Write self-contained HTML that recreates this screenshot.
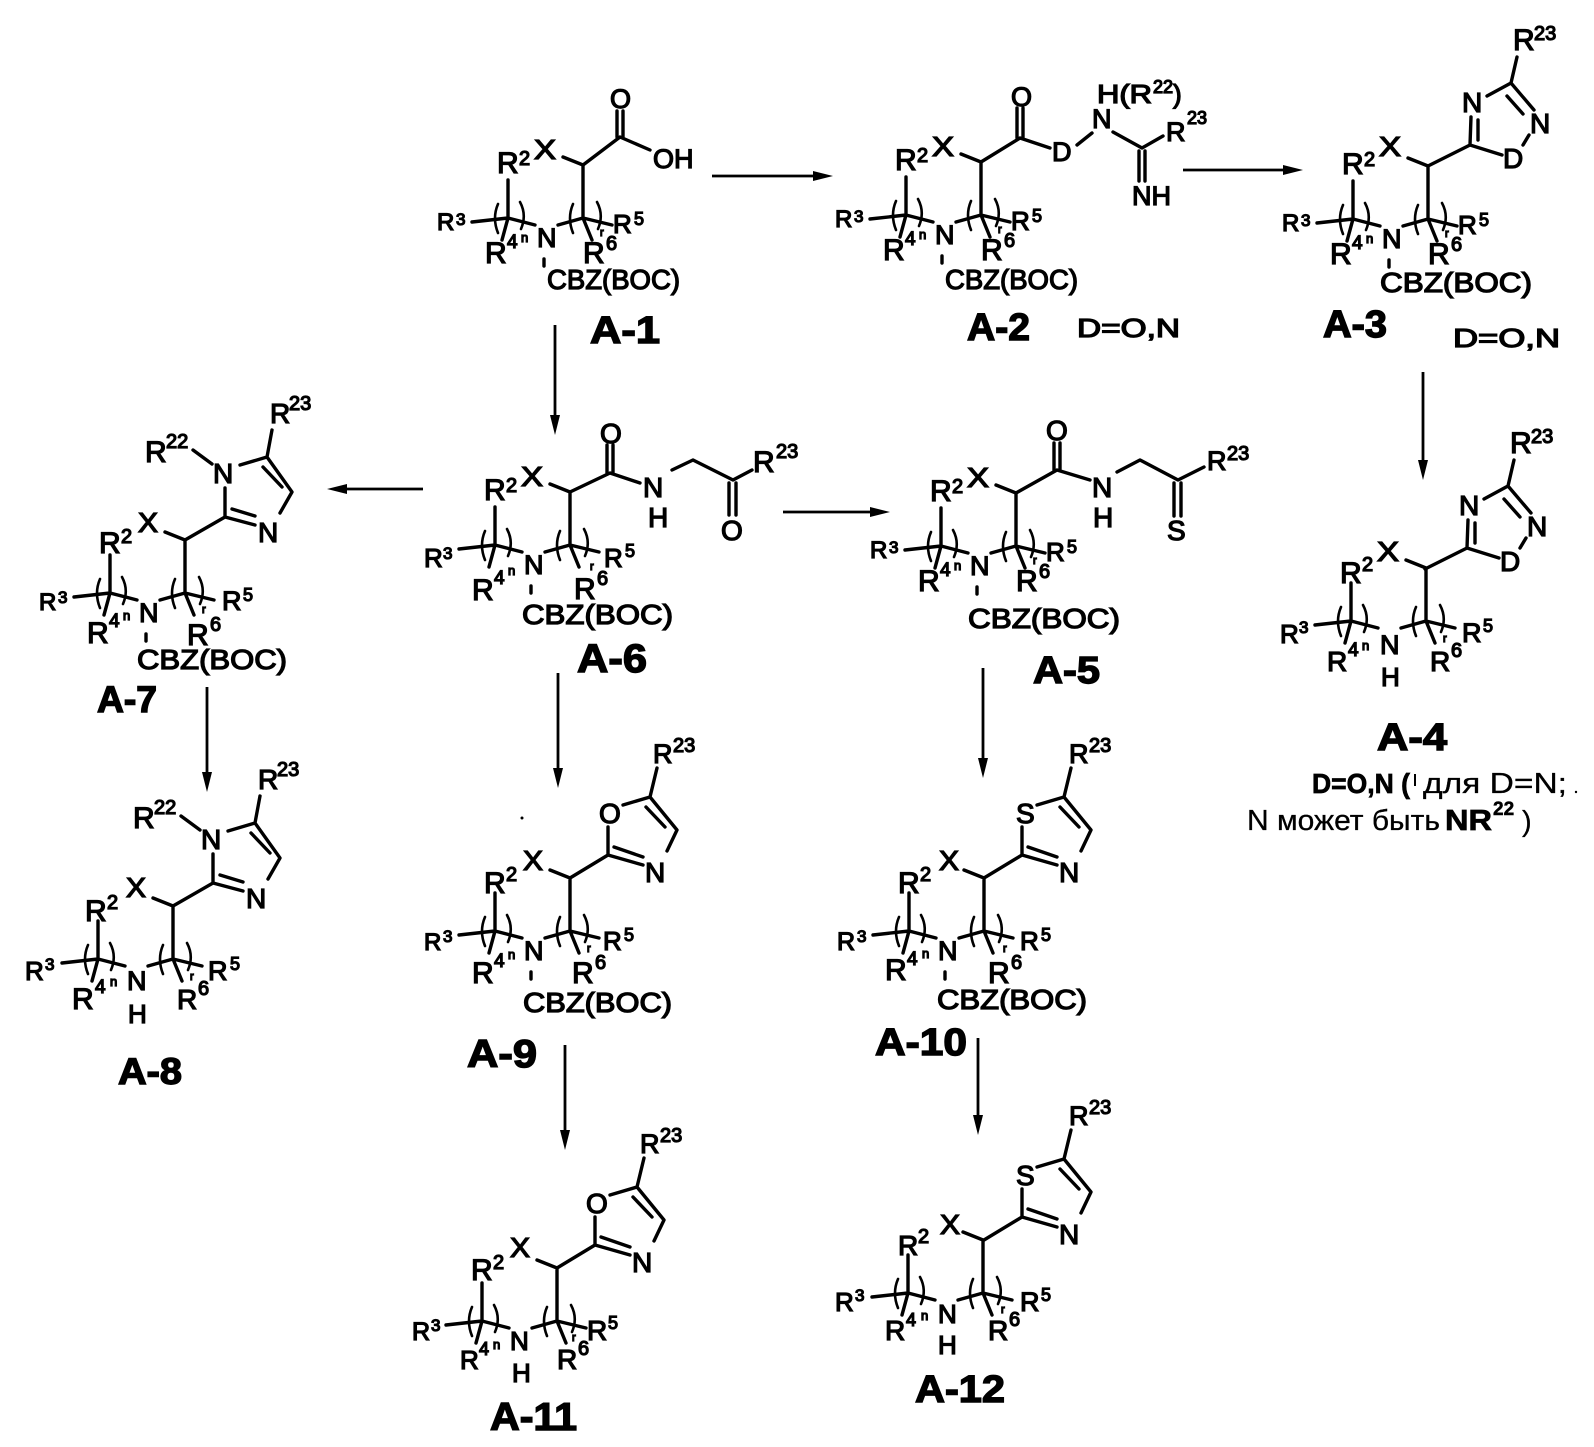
<!DOCTYPE html>
<html><head><meta charset="utf-8"><style>
html,body{margin:0;padding:0;background:#fff;}
svg{display:block;}
.t{font-family:"Liberation Sans",Arial,sans-serif;fill:#000;stroke:#000;stroke-width:1.3;}
.b{font-family:"Liberation Sans",Arial,sans-serif;font-weight:bold;fill:#000;stroke:#000;stroke-width:1.4;}
.r{font-family:"Liberation Sans",Arial,sans-serif;fill:#000;stroke:#000;stroke-width:0.3;}
.ln{stroke:#000;stroke-width:3.4;fill:none;stroke-linecap:round;stroke-linejoin:round;}
.ln2{stroke:#000;stroke-width:2.6;fill:none;stroke-linecap:round;}
.ar line{stroke:#000;stroke-width:2.8;}
.ar polygon{fill:#000;}
</style></head><body>
<svg width="1594" height="1447" viewBox="0 0 1594 1447" xmlns="http://www.w3.org/2000/svg">
<rect width="1594" height="1447" fill="#fff"/>

<!-- ARROWS -->
<g class="ar">
<line x1="712" y1="176" x2="815" y2="176"/><polygon points="833,176 813,171 813,181"/>
<line x1="1183" y1="170" x2="1285" y2="170"/><polygon points="1303,170 1283,165 1283,175"/>
<line x1="1423" y1="372" x2="1423" y2="462"/><polygon points="1423,480 1418,460 1428,460"/>
<line x1="555" y1="325" x2="555" y2="417"/><polygon points="555,435 550,415 560,415"/>
<line x1="423" y1="489" x2="345" y2="489"/><polygon points="327,489 347,484 347,494"/>
<line x1="783" y1="512" x2="872" y2="512"/><polygon points="890,512 870,507 870,517"/>
<line x1="983" y1="668" x2="983" y2="760"/><polygon points="983,778 978,758 988,758"/>
<line x1="558" y1="673" x2="558" y2="770"/><polygon points="558,788 553,768 563,768"/>
<line x1="207" y1="687" x2="207" y2="774"/><polygon points="207,792 202,772 212,772"/>
<line x1="565" y1="1045" x2="565" y2="1132"/><polygon points="565,1150 560,1130 570,1130"/>
<line x1="978" y1="1038" x2="978" y2="1117"/><polygon points="978,1135 973,1115 983,1115"/>
</g>

<!-- ===== CORES (CBZ variant) ===== -->
<!-- A-1 -->
<g transform="translate(0,0)">
<path class="ln" d="M563,157 L583,165 L583,218 M508,180 L508,218 M472,222 L508,218 L535,225 M508,218 L502,240 M558,225 L583,218 L612,225 M583,218 L592,240 M544,259 L544,266"/>
<path class="ln2" d="M498,204 Q492,218 498,233 M520,202 Q527,215 521,229 M573,204 Q567,218 573,233 M597,202 Q604,215 598,229"/>
<text class="t" x="497" y="173" font-size="30">R</text><text class="t" x="519" y="165" font-size="20">2</text>
<text class="t" x="534" y="159" font-size="28" textLength="22" lengthAdjust="spacingAndGlyphs">X</text>
<text class="t" x="437" y="230" font-size="24">R</text><text class="t" x="456" y="225" font-size="17">3</text>
<text class="t" x="537" y="247" font-size="27">N</text>
<text class="t" x="485" y="263" font-size="30">R</text><text class="t" x="507" y="248" font-size="19">4</text><text class="t" x="521" y="242" font-size="13">n</text>
<text class="t" x="613" y="233" font-size="26">R</text><text class="t" x="634" y="225" font-size="18">5</text>
<text class="t" x="583" y="263" font-size="30">R</text><text class="t" x="606" y="250" font-size="20">6</text><text class="t" x="600" y="236" font-size="11">r</text>
<text class="t" x="547" y="289" font-size="28" textLength="133" lengthAdjust="spacingAndGlyphs">CBZ(BOC)</text>
</g>
<!-- A-2 -->
<g transform="translate(398,-3)">
<path class="ln" d="M563,157 L583,165 L583,218 M508,180 L508,218 M472,222 L508,218 L535,225 M508,218 L502,240 M558,225 L583,218 L612,225 M583,218 L592,240 M544,259 L544,266"/>
<path class="ln2" d="M498,204 Q492,218 498,233 M520,202 Q527,215 521,229 M573,204 Q567,218 573,233 M597,202 Q604,215 598,229"/>
<text class="t" x="497" y="173" font-size="30">R</text><text class="t" x="519" y="165" font-size="20">2</text>
<text class="t" x="534" y="159" font-size="28" textLength="22" lengthAdjust="spacingAndGlyphs">X</text>
<text class="t" x="437" y="230" font-size="24">R</text><text class="t" x="456" y="225" font-size="17">3</text>
<text class="t" x="537" y="247" font-size="27">N</text>
<text class="t" x="485" y="263" font-size="30">R</text><text class="t" x="507" y="248" font-size="19">4</text><text class="t" x="521" y="242" font-size="13">n</text>
<text class="t" x="613" y="233" font-size="26">R</text><text class="t" x="634" y="225" font-size="18">5</text>
<text class="t" x="583" y="263" font-size="30">R</text><text class="t" x="606" y="250" font-size="20">6</text><text class="t" x="600" y="236" font-size="11">r</text>
<text class="t" x="547" y="292" font-size="28" textLength="133" lengthAdjust="spacingAndGlyphs">CBZ(BOC)</text>
</g>
<!-- A-3 -->
<g transform="translate(845,1)">
<path class="ln" d="M563,157 L583,165 L583,218 M508,180 L508,218 M472,222 L508,218 L535,225 M508,218 L502,240 M558,225 L583,218 L612,225 M583,218 L592,240 M544,259 L544,266"/>
<path class="ln2" d="M498,204 Q492,218 498,233 M520,202 Q527,215 521,229 M573,204 Q567,218 573,233 M597,202 Q604,215 598,229"/>
<text class="t" x="497" y="173" font-size="30">R</text><text class="t" x="519" y="165" font-size="20">2</text>
<text class="t" x="534" y="155" font-size="28" textLength="22" lengthAdjust="spacingAndGlyphs">X</text>
<text class="t" x="437" y="230" font-size="24">R</text><text class="t" x="456" y="225" font-size="17">3</text>
<text class="t" x="537" y="247" font-size="27">N</text>
<text class="t" x="485" y="263" font-size="30">R</text><text class="t" x="507" y="248" font-size="19">4</text><text class="t" x="521" y="242" font-size="13">n</text>
<text class="t" x="613" y="233" font-size="26">R</text><text class="t" x="634" y="225" font-size="18">5</text>
<text class="t" x="583" y="263" font-size="30">R</text><text class="t" x="606" y="250" font-size="20">6</text><text class="t" x="600" y="236" font-size="11">r</text>
<text class="t" x="535" y="291" font-size="28" textLength="152" lengthAdjust="spacingAndGlyphs">CBZ(BOC)</text>
</g>
<!-- A-5 -->
<g transform="translate(433,328)">
<path class="ln" d="M563,157 L583,165 L583,218 M508,180 L508,218 M472,222 L508,218 L535,225 M508,218 L502,240 M558,225 L583,218 L612,225 M583,218 L592,240 M544,259 L544,266"/>
<path class="ln2" d="M498,204 Q492,218 498,233 M520,202 Q527,215 521,229 M573,204 Q567,218 573,233 M597,202 Q604,215 598,229"/>
<text class="t" x="497" y="173" font-size="30">R</text><text class="t" x="519" y="165" font-size="20">2</text>
<text class="t" x="534" y="159" font-size="28" textLength="22" lengthAdjust="spacingAndGlyphs">X</text>
<text class="t" x="437" y="230" font-size="24">R</text><text class="t" x="456" y="225" font-size="17">3</text>
<text class="t" x="537" y="247" font-size="27">N</text>
<text class="t" x="485" y="263" font-size="30">R</text><text class="t" x="507" y="248" font-size="19">4</text><text class="t" x="521" y="242" font-size="13">n</text>
<text class="t" x="613" y="233" font-size="26">R</text><text class="t" x="634" y="225" font-size="18">5</text>
<text class="t" x="583" y="263" font-size="30">R</text><text class="t" x="606" y="250" font-size="20">6</text><text class="t" x="600" y="236" font-size="11">r</text>
<text class="t" x="535" y="300" font-size="28" textLength="152" lengthAdjust="spacingAndGlyphs">CBZ(BOC)</text>
</g>
<!-- A-6 -->
<g transform="translate(-13,327)">
<path class="ln" d="M563,157 L583,165 L583,218 M508,180 L508,218 M472,222 L508,218 L535,225 M508,218 L502,240 M558,225 L583,218 L612,225 M583,218 L592,240 M544,259 L544,266"/>
<path class="ln2" d="M498,204 Q492,218 498,233 M520,202 Q527,215 521,229 M573,204 Q567,218 573,233 M597,202 Q604,215 598,229"/>
<text class="t" x="497" y="173" font-size="30">R</text><text class="t" x="519" y="165" font-size="20">2</text>
<text class="t" x="534" y="159" font-size="28" textLength="22" lengthAdjust="spacingAndGlyphs">X</text>
<text class="t" x="437" y="240" font-size="26">R</text><text class="t" x="456" y="232" font-size="17">3</text>
<text class="t" x="537" y="247" font-size="27">N</text>
<text class="t" x="485" y="273" font-size="30">R</text><text class="t" x="507" y="257" font-size="19">4</text><text class="t" x="521" y="248" font-size="13">n</text>
<text class="t" x="617" y="240" font-size="26">R</text><text class="t" x="638" y="230" font-size="18">5</text>
<text class="t" x="587" y="272" font-size="30">R</text><text class="t" x="610" y="258" font-size="20">6</text><text class="t" x="603" y="243" font-size="11">r</text>
<text class="t" x="535" y="297" font-size="28" textLength="151" lengthAdjust="spacingAndGlyphs">CBZ(BOC)</text>
</g>
<!-- A-7 -->
<g transform="translate(-398,375)">
<path class="ln" d="M563,157 L583,165 L583,218 M508,180 L508,218 M472,222 L508,218 L535,225 M508,218 L502,240 M558,225 L583,218 L612,225 M583,218 L592,240 M544,259 L544,266"/>
<path class="ln2" d="M498,204 Q492,218 498,233 M520,202 Q527,215 521,229 M573,204 Q567,218 573,233 M597,202 Q604,215 598,229"/>
<text class="t" x="497" y="178" font-size="30">R</text><text class="t" x="519" y="168" font-size="20">2</text>
<text class="t" x="536" y="157" font-size="28" textLength="20" lengthAdjust="spacingAndGlyphs">X</text>
<text class="t" x="437" y="235" font-size="24">R</text><text class="t" x="456" y="228" font-size="17">3</text>
<text class="t" x="537" y="247" font-size="27">N</text>
<text class="t" x="485" y="268" font-size="30">R</text><text class="t" x="507" y="252" font-size="19">4</text><text class="t" x="521" y="245" font-size="13">n</text>
<text class="t" x="620" y="235" font-size="27">R</text><text class="t" x="641" y="226" font-size="18">5</text>
<text class="t" x="585" y="270" font-size="30">R</text><text class="t" x="608" y="256" font-size="20">6</text><text class="t" x="600" y="238" font-size="11">r</text>
<text class="t" x="535" y="294" font-size="28" textLength="150" lengthAdjust="spacingAndGlyphs">CBZ(BOC)</text>
</g>
<!-- A-9 -->
<g transform="translate(-13,713)">
<path class="ln" d="M563,157 L583,165 L583,218 M508,180 L508,218 M472,222 L508,218 L535,225 M508,218 L502,240 M558,225 L583,218 L612,225 M583,218 L592,240 M544,259 L544,266"/>
<path class="ln2" d="M498,204 Q492,218 498,233 M520,202 Q527,215 521,229 M573,204 Q567,218 573,233 M597,202 Q604,215 598,229"/>
<text class="t" x="497" y="180" font-size="30">R</text><text class="t" x="519" y="168" font-size="20">2</text>
<text class="t" x="536" y="157" font-size="28" textLength="20" lengthAdjust="spacingAndGlyphs">X</text>
<text class="t" x="437" y="237" font-size="24">R</text><text class="t" x="456" y="229" font-size="17">3</text>
<text class="t" x="537" y="247" font-size="27">N</text>
<text class="t" x="485" y="270" font-size="30">R</text><text class="t" x="507" y="254" font-size="19">4</text><text class="t" x="521" y="246" font-size="13">n</text>
<text class="t" x="616" y="237" font-size="26">R</text><text class="t" x="637" y="228" font-size="18">5</text>
<text class="t" x="585" y="270" font-size="30">R</text><text class="t" x="608" y="256" font-size="20">6</text><text class="t" x="600" y="239" font-size="11">r</text>
<text class="t" x="536" y="299" font-size="28" textLength="149" lengthAdjust="spacingAndGlyphs">CBZ(BOC)</text>
</g>
<!-- A-10 -->
<g transform="translate(401,713)">
<path class="ln" d="M563,157 L583,165 L583,218 M508,180 L508,218 M472,222 L508,218 L535,225 M508,218 L502,240 M558,225 L583,218 L612,225 M583,218 L592,240 M544,259 L544,266"/>
<path class="ln2" d="M498,204 Q492,218 498,233 M520,202 Q527,215 521,229 M573,204 Q567,218 573,233 M597,202 Q604,215 598,229"/>
<text class="t" x="497" y="180" font-size="30">R</text><text class="t" x="519" y="168" font-size="20">2</text>
<text class="t" x="538" y="157" font-size="28" textLength="20" lengthAdjust="spacingAndGlyphs">X</text>
<text class="t" x="436" y="237" font-size="25">R</text><text class="t" x="456" y="229" font-size="17">3</text>
<text class="t" x="537" y="247" font-size="27">N</text>
<text class="t" x="484" y="267" font-size="30">R</text><text class="t" x="506" y="252" font-size="19">4</text><text class="t" x="521" y="245" font-size="13">n</text>
<text class="t" x="619" y="237" font-size="26">R</text><text class="t" x="640" y="228" font-size="18">5</text>
<text class="t" x="587" y="270" font-size="30">R</text><text class="t" x="610" y="256" font-size="20">6</text><text class="t" x="602" y="239" font-size="11">r</text>
<text class="t" x="536" y="296" font-size="28" textLength="150" lengthAdjust="spacingAndGlyphs">CBZ(BOC)</text>
</g>

<!-- ===== CORES (NH variant) ===== -->
<!-- A-4 -->
<g transform="translate(843,403)">
<path class="ln" d="M563,157 L583,165 L583,218 M508,180 L508,218 M472,222 L508,218 L535,225 M508,218 L502,240 M558,225 L583,218 L612,225 M583,218 L592,240"/>
<path class="ln2" d="M498,204 Q492,218 498,233 M520,202 Q527,215 521,229 M573,204 Q567,218 573,233 M597,202 Q604,215 598,229"/>
<text class="t" x="497" y="180" font-size="30">R</text><text class="t" x="519" y="168" font-size="20">2</text>
<text class="t" x="534" y="158" font-size="28" textLength="22" lengthAdjust="spacingAndGlyphs">X</text>
<text class="t" x="437" y="240" font-size="26">R</text><text class="t" x="456" y="230" font-size="17">3</text>
<text class="t" x="537" y="251" font-size="27">N</text>
<text class="t" x="484" y="268" font-size="28">R</text><text class="t" x="505" y="253" font-size="19">4</text><text class="t" x="519" y="247" font-size="13">n</text>
<text class="t" x="619" y="239" font-size="27">R</text><text class="t" x="640" y="229" font-size="18">5</text>
<text class="t" x="587" y="268" font-size="28">R</text><text class="t" x="608" y="254" font-size="20">6</text><text class="t" x="600" y="239" font-size="11">r</text>
<text class="t" x="538" y="283" font-size="26">H</text>
</g>
<!-- A-8 -->
<g transform="translate(-410,741)">
<path class="ln" d="M563,157 L583,165 L583,218 M508,180 L508,218 M472,222 L508,218 L535,225 M508,218 L502,240 M558,225 L583,218 L612,225 M583,218 L592,240"/>
<path class="ln2" d="M498,204 Q492,218 498,233 M520,202 Q527,215 521,229 M573,204 Q567,218 573,233 M597,202 Q604,215 598,229"/>
<text class="t" x="495" y="180" font-size="30">R</text><text class="t" x="517" y="168" font-size="20">2</text>
<text class="t" x="536" y="156" font-size="28" textLength="20" lengthAdjust="spacingAndGlyphs">X</text>
<text class="t" x="435" y="239" font-size="26">R</text><text class="t" x="455" y="229" font-size="17">3</text>
<text class="t" x="537" y="249" font-size="27">N</text>
<text class="t" x="482" y="268" font-size="30">R</text><text class="t" x="505" y="252" font-size="19">4</text><text class="t" x="520" y="245" font-size="13">n</text>
<text class="t" x="618" y="239" font-size="27">R</text><text class="t" x="640" y="229" font-size="18">5</text>
<text class="t" x="587" y="268" font-size="28">R</text><text class="t" x="608" y="254" font-size="20">6</text><text class="t" x="600" y="239" font-size="11">r</text>
<text class="t" x="538" y="282" font-size="26">H</text>
</g>
<!-- A-11 -->
<g transform="translate(-26,1103)">
<path class="ln" d="M563,157 L583,165 L583,218 M508,180 L508,218 M472,222 L508,218 L535,225 M508,218 L502,240 M558,225 L583,218 L612,225 M583,218 L592,240"/>
<path class="ln2" d="M498,204 Q492,218 498,233 M520,202 Q527,215 521,229 M573,204 Q567,218 573,233 M597,202 Q604,215 598,229"/>
<text class="t" x="497" y="177" font-size="30">R</text><text class="t" x="519" y="166" font-size="20">2</text>
<text class="t" x="536" y="154" font-size="28" textLength="20" lengthAdjust="spacingAndGlyphs">X</text>
<text class="t" x="438" y="237" font-size="25">R</text><text class="t" x="457" y="228" font-size="17">3</text>
<text class="t" x="536" y="247" font-size="26">N</text>
<text class="t" x="486" y="266" font-size="26">R</text><text class="t" x="505" y="252" font-size="18">4</text><text class="t" x="519" y="246" font-size="13">n</text>
<text class="t" x="613" y="237" font-size="28">R</text><text class="t" x="634" y="226" font-size="18">5</text>
<text class="t" x="583" y="266" font-size="28">R</text><text class="t" x="604" y="252" font-size="20">6</text><text class="t" x="598" y="238" font-size="11">r</text>
<text class="t" x="538" y="279" font-size="26">H</text>
</g>
<!-- A-12 -->
<g transform="translate(400,1075)">
<path class="ln" d="M563,157 L583,165 L583,218 M508,180 L508,218 M472,222 L508,218 L535,225 M508,218 L502,240 M558,225 L583,218 L612,225 M583,218 L592,240"/>
<path class="ln2" d="M498,204 Q492,218 498,233 M520,202 Q527,215 521,229 M573,204 Q567,218 573,233 M597,202 Q604,215 598,229"/>
<text class="t" x="498" y="180" font-size="28">R</text><text class="t" x="518" y="168" font-size="20">2</text>
<text class="t" x="540" y="159" font-size="28" textLength="20" lengthAdjust="spacingAndGlyphs">X</text>
<text class="t" x="435" y="236" font-size="26">R</text><text class="t" x="455" y="226" font-size="17">3</text>
<text class="t" x="538" y="248" font-size="26">N</text>
<text class="t" x="485" y="265" font-size="28">R</text><text class="t" x="506" y="251" font-size="18">4</text><text class="t" x="521" y="245" font-size="13">n</text>
<text class="t" x="620" y="236" font-size="27">R</text><text class="t" x="641" y="226" font-size="18">5</text>
<text class="t" x="588" y="265" font-size="28">R</text><text class="t" x="609" y="251" font-size="20">6</text><text class="t" x="601" y="238" font-size="11">r</text>
<text class="t" x="538" y="279" font-size="26">H</text>
</g>

<!-- ===== SUBSTITUENTS ===== -->
<!-- A-1 acid -->
<path class="ln" d="M583,165 L620,137 L650,150 M617,137 L617,111 M623,137 L623,111"/>
<text class="t" x="610" y="108" font-size="27">O</text>
<text class="t" x="653" y="168" font-size="27">OH</text>

<!-- A-2 -->
<path class="ln" d="M981,162 L1020,138 L1050,148 M1017,138 L1017,108 M1023,138 L1023,108 M1077,145 L1092,133 M1113,132 L1142,148 L1163,136 M1139,151 L1139,181 M1145,151 L1145,181"/>
<text class="t" x="1011" y="106" font-size="27">O</text>
<text class="t" x="1052" y="161" font-size="27">D</text>
<text class="t" x="1092" y="128" font-size="27">N</text>
<text class="t" x="1097" y="103" font-size="26" textLength="55" lengthAdjust="spacingAndGlyphs">H(R</text><text class="t" x="1153" y="93" font-size="18">22</text><text class="t" x="1173" y="103" font-size="26">)</text>
<text class="t" x="1166" y="141" font-size="27">R</text><text class="t" x="1187" y="124" font-size="18">23</text>
<text class="t" x="1132" y="205" font-size="27">NH</text>
<text class="t" x="1077" y="337" font-size="26" textLength="103" lengthAdjust="spacingAndGlyphs">D=O,N</text>

<!-- A-3 oxadiazole -->
<g>
<path class="ln" d="M1428,166 L1470,145 L1471,117 M1478,140 L1478,120 M1487,96 L1511,83 L1534,110 M1507,96 L1523,114 M1511,83 L1517,57 M1529,135 L1523,145 M1502,155 L1470,145"/>
<text class="t" x="1462" y="112" font-size="28">N</text>
<text class="t" x="1530" y="133" font-size="28">N</text>
<text class="t" x="1503" y="168" font-size="28">D</text>
<text class="t" x="1513" y="50" font-size="30">R</text><text class="t" x="1534" y="40" font-size="20">23</text>
</g>
<text class="t" x="1453" y="347" font-size="26" textLength="107" lengthAdjust="spacingAndGlyphs">D=O,N</text>

<!-- A-4 oxadiazole -->
<g transform="translate(-3,403)">
<path class="ln" d="M1428,166 L1470,145 L1471,117 M1478,140 L1478,120 M1487,96 L1511,83 L1534,110 M1507,96 L1523,114 M1511,83 L1517,57 M1529,135 L1523,145 M1502,155 L1470,145"/>
<text class="t" x="1462" y="112" font-size="28">N</text>
<text class="t" x="1530" y="133" font-size="28">N</text>
<text class="t" x="1503" y="168" font-size="28">D</text>
<text class="t" x="1513" y="50" font-size="30">R</text><text class="t" x="1534" y="40" font-size="20">23</text>
</g>

<!-- A-4 note -->
<text class="b" x="1312" y="793" font-size="28" textLength="98" lengthAdjust="spacingAndGlyphs" style="stroke-width:0.7">D=O,N (</text>
<line x1="1415" y1="774" x2="1415" y2="786" stroke="#000" stroke-width="2"/>
<text class="r" x="1423" y="793" font-size="29" textLength="144" lengthAdjust="spacingAndGlyphs">для D=N;</text>
<circle cx="1576" cy="792" r="1.2" fill="#000"/>
<text class="r" x="1247" y="830" font-size="29" textLength="193" lengthAdjust="spacingAndGlyphs">N может быть</text>
<text class="b" x="1445" y="830" font-size="29" textLength="47" lengthAdjust="spacingAndGlyphs" style="stroke-width:0.7">NR</text>
<text class="b" x="1493" y="815" font-size="19" style="stroke-width:0.5">22</text>
<text class="r" x="1522" y="831" font-size="29">)</text>

<!-- A-5 thioamide -->
<path class="ln" d="M1016,493 L1057,470 L1090,480 M1054,470 L1054,443 M1060,470 L1060,443 M1117,472 L1140,460 L1178,480 L1204,467 M1174,483 L1174,516 M1181,483 L1181,516"/>
<text class="t" x="1046" y="440" font-size="28">O</text>
<text class="t" x="1092" y="497" font-size="28">N</text>
<text class="t" x="1093" y="527" font-size="28">H</text>
<text class="t" x="1167" y="540" font-size="28">S</text>
<text class="t" x="1207" y="470" font-size="27">R</text><text class="t" x="1227" y="460" font-size="20">23</text>

<!-- A-6 ketoamide -->
<path class="ln" d="M570,492 L610,473 L640,483 M607,473 L607,445 M613,473 L613,445 M672,470 L693,460 L733,480 L752,470 M729,483 L729,515 M736,483 L736,515"/>
<text class="t" x="600" y="443" font-size="28">O</text>
<text class="t" x="643" y="497" font-size="28">N</text>
<text class="t" x="648" y="527" font-size="28">H</text>
<text class="t" x="721" y="540" font-size="28">O</text>
<text class="t" x="753" y="472" font-size="30">R</text><text class="t" x="776" y="458" font-size="20">23</text>

<!-- A-7 imidazole -->
<g>
<path class="ln" d="M185,540 L225,517 L225,488 M240,465 L267,457 L292,492 L280,513 M267,457 L272,430 M263,467 L282,487 M225,517 L255,525 M232,509 L255,516 M193,450 L212,464"/>
<text class="t" x="213" y="483" font-size="28">N</text>
<text class="t" x="258" y="542" font-size="28">N</text>
<text class="t" x="145" y="462" font-size="30">R</text><text class="t" x="166" y="448" font-size="20">22</text>
<text class="t" x="270" y="423" font-size="28">R</text><text class="t" x="289" y="410" font-size="20">23</text>
</g>
<!-- A-8 imidazole -->
<g transform="translate(-12,366)">
<path class="ln" d="M185,540 L225,517 L225,488 M240,465 L267,457 L292,492 L280,513 M267,457 L272,430 M263,467 L282,487 M225,517 L255,525 M232,509 L255,516 M193,450 L212,464"/>
<text class="t" x="213" y="483" font-size="28">N</text>
<text class="t" x="258" y="542" font-size="28">N</text>
<text class="t" x="145" y="462" font-size="30">R</text><text class="t" x="166" y="448" font-size="20">22</text>
<text class="t" x="270" y="423" font-size="28">R</text><text class="t" x="289" y="410" font-size="20">23</text>
</g>

<!-- A-9 oxazole -->
<g>
<path class="ln" d="M570,878 L608,855 L608,827 M623,805 L650,797 L677,830 L667,851 M650,797 L657,768 M646,807 L665,827 M608,855 L643,865 M614,847 L643,857"/>
<text class="t" x="599" y="823" font-size="28">O</text>
<text class="t" x="645" y="882" font-size="28">N</text>
<text class="t" x="653" y="763" font-size="27">R</text><text class="t" x="673" y="752" font-size="20">23</text>
</g>
<circle cx="522" cy="818" r="1.5" fill="#000"/>
<!-- A-11 oxazole -->
<g transform="translate(-13,390)">
<path class="ln" d="M570,878 L608,855 L608,827 M623,805 L650,797 L677,830 L667,851 M650,797 L657,768 M646,807 L665,827 M608,855 L643,865 M614,847 L643,857"/>
<text class="t" x="599" y="823" font-size="28">O</text>
<text class="t" x="645" y="882" font-size="28">N</text>
<text class="t" x="653" y="763" font-size="27">R</text><text class="t" x="673" y="752" font-size="20">23</text>
</g>
<!-- A-10 thiazole -->
<g transform="translate(414,0)">
<path class="ln" d="M570,878 L608,855 L608,827 M623,805 L650,797 L677,830 L667,851 M650,797 L657,768 M646,807 L665,827 M608,855 L643,865 M614,847 L643,857"/>
<text class="t" x="602" y="823" font-size="28">S</text>
<text class="t" x="645" y="882" font-size="28">N</text>
<text class="t" x="655" y="763" font-size="27">R</text><text class="t" x="675" y="752" font-size="20">23</text>
</g>
<!-- A-12 thiazole -->
<g transform="translate(414,362)">
<path class="ln" d="M570,878 L608,855 L608,827 M623,805 L650,797 L677,830 L667,851 M650,797 L657,768 M646,807 L665,827 M608,855 L643,865 M614,847 L643,857"/>
<text class="t" x="602" y="823" font-size="28">S</text>
<text class="t" x="645" y="882" font-size="28">N</text>
<text class="t" x="655" y="763" font-size="27">R</text><text class="t" x="675" y="752" font-size="20">23</text>
</g>

<!-- ===== LABELS ===== -->
<text class="b" x="590" y="343" font-size="38" textLength="70" lengthAdjust="spacingAndGlyphs">A-1</text>
<text class="b" x="967" y="340" font-size="38" textLength="63" lengthAdjust="spacingAndGlyphs">A-2</text>
<text class="b" x="1323" y="337" font-size="38" textLength="64" lengthAdjust="spacingAndGlyphs">A-3</text>
<text class="b" x="1377" y="750" font-size="38" textLength="70" lengthAdjust="spacingAndGlyphs">A-4</text>
<text class="b" x="1033" y="683" font-size="38" textLength="67" lengthAdjust="spacingAndGlyphs">A-5</text>
<text class="b" x="577" y="672" font-size="40" textLength="70" lengthAdjust="spacingAndGlyphs">A-6</text>
<text class="b" x="97" y="712" font-size="37" textLength="60" lengthAdjust="spacingAndGlyphs">A-7</text>
<text class="b" x="118" y="1084" font-size="37" textLength="64" lengthAdjust="spacingAndGlyphs">A-8</text>
<text class="b" x="467" y="1067" font-size="39" textLength="70" lengthAdjust="spacingAndGlyphs">A-9</text>
<text class="b" x="875" y="1055" font-size="38" textLength="92" lengthAdjust="spacingAndGlyphs">A-10</text>
<text class="b" x="490" y="1430" font-size="39" textLength="87" lengthAdjust="spacingAndGlyphs">A-11</text>
<text class="b" x="915" y="1402" font-size="38" textLength="90" lengthAdjust="spacingAndGlyphs">A-12</text>
</svg>
</body></html>
